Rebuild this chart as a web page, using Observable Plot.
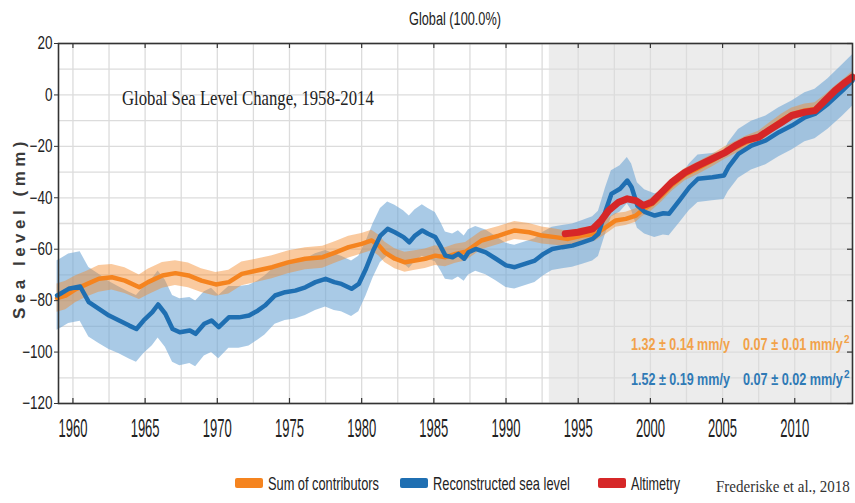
<!DOCTYPE html>
<html>
<head>
<meta charset="utf-8">
<script src="https://cdn.jsdelivr.net/npm/d3@7"></script>
<script src="https://cdn.jsdelivr.net/npm/@observablehq/plot@0.6"></script>
<style>
  html, body { margin: 0; padding: 0; background: #fff; }
  #chart { width: 855px; height: 503px; }
</style>
</head>
<body>
<div id="chart"></div>
<script>
// Global mean sea level (mm), 1959–2014

// Sum of contributors: year, level, half-width of the uncertainty band
const sumYear = [1958.9, 1959.5, 1960.2, 1961.0, 1961.8, 1962.7, 1963.6, 1964.6, 1965.2, 1966.2,
  1967.1, 1968.0, 1968.9, 1969.9, 1970.8, 1971.7, 1972.6, 1973.8, 1974.9, 1976.1,
  1977.3, 1978.2, 1979.1, 1980.0, 1980.7, 1981.2, 1981.6, 1982.3, 1983.0, 1983.7,
  1984.4, 1985.1, 1985.8, 1986.5, 1987.2, 1988.3, 1989.5, 1990.6, 1991.6, 1992.5,
  1993.4, 1994.3, 1995.3, 1996.2, 1996.9, 1997.6, 1998.3, 1999.0, 1999.4, 2000.1,
  2000.8, 2001.5, 2002.4, 2003.3, 2004.3, 2005.2, 2005.9, 2006.6, 2007.5, 2008.2,
  2009.1, 2009.8, 2010.7, 2011.4, 2012.1, 2012.8, 2013.5, 2014.0];
const sumLevel = [-79, -78, -75.5, -73.5, -71.5, -70.9, -72.2, -74.8, -72.8, -70.2,
  -69.3, -70.2, -72.2, -73.7, -72.8, -69.6, -68.5, -67.0, -65.1, -63.7,
  -63.1, -61.2, -59.2, -57.9, -56.6, -58.6, -61.2, -63.7, -65.1, -64.4,
  -63.7, -62.5, -63.1, -61.8, -61.0, -56.6, -54.7, -52.7, -53.4, -54.7,
  -55.3, -56.0, -54.7, -54.0, -51.5, -48.8, -48.2, -46.9, -45.0, -42.5,
  -39.0, -35.0, -31.0, -28.5, -25.5, -22.5, -20.5, -18.5, -16.5, -13.5,
  -9.8, -7.5, -6.0, -5.5, -2.5, 1.0, 4.0, 6.5];
const sumSpread = [5.5, 5.5, 5.2, 5.0, 5.2, 5.0, 5.0, 4.8, 5.0, 5.0,
  4.8, 4.8, 4.6, 4.6, 4.6, 4.6, 4.5, 4.5, 4.4, 4.3,
  4.3, 4.2, 4.2, 4.0, 4.0, 4.0, 4.0, 3.9, 3.9, 3.8,
  3.8, 3.8, 3.7, 3.7, 3.6, 3.6, 3.5, 3.5, 3.4, 3.3,
  3.2, 3.0, 3.0, 2.8, 2.8, 2.7, 2.6, 2.6, 2.5, 2.5,
  2.5, 2.5, 2.4, 2.4, 2.4, 2.4, 2.4, 2.4, 2.4, 2.4,
  2.4, 2.4, 2.5, 2.5, 2.5, 2.5, 2.6, 2.6];

// Reconstructed sea level
const reconYear = [1958.9, 1959.1, 1959.7, 1960.5, 1961.1, 1961.8, 1962.5, 1963.2, 1963.9, 1964.4,
  1964.9, 1965.5, 1965.9, 1966.4, 1966.9, 1967.4, 1968.1, 1968.5, 1969.1, 1969.6,
  1970.1, 1970.8, 1971.5, 1972.2, 1972.8, 1973.3, 1974.0, 1974.7, 1975.4, 1976.1,
  1976.8, 1977.5, 1978.1, 1978.6, 1979.3, 1979.8, 1980.3, 1980.8, 1981.3, 1981.8,
  1982.3, 1982.9, 1983.3, 1983.7, 1984.2, 1984.6, 1985.1, 1985.5, 1985.8, 1986.3,
  1986.7, 1987.1, 1987.4, 1987.9, 1988.6, 1989.3, 1990.0, 1990.6, 1991.3, 1992.0,
  1992.6, 1993.2, 1993.9, 1994.6, 1995.3, 1996.0, 1996.4, 1996.9, 1997.3, 1997.9,
  1998.4, 1998.7, 1999.1, 1999.6, 2000.3, 2000.9, 2001.3, 2002.0, 2002.7, 2003.3,
  2004.3, 2005.1, 2005.4, 2006.1, 2007.0, 2008.0, 2008.9, 2009.8, 2010.7, 2011.4,
  2012.3, 2013.3, 2014.0];
const reconLevel = [-78.0, -77.4, -75.4, -74.5, -80.6, -83.2, -85.8, -87.7, -89.7, -91.0,
  -87.7, -84.5, -81.5, -85.1, -91.0, -92.3, -91.6, -92.9, -89.0, -87.7,
  -90.3, -86.5, -86.5, -85.8, -83.9, -81.9, -78.0, -76.7, -76.1, -74.8,
  -72.8, -71.5, -72.8, -73.5, -75.4, -73.5, -67.6, -60.5, -54.7, -52.1,
  -53.4, -55.3, -57.3, -54.7, -52.7, -54.0, -55.3, -59.2, -62.5, -63.1,
  -61.8, -63.7, -61.2, -59.9, -61.2, -63.7, -66.3, -67.0, -65.7, -64.4,
  -61.8, -59.9, -59.2, -58.6, -57.3, -56.0, -54.0, -45.0, -38.5, -36.5,
  -33.3, -35.9, -43.0, -45.5, -46.9, -46.0, -46.2, -41.1, -35.9, -32.6,
  -32.0, -31.3, -28.1, -22.9, -19.7, -17.7, -14.5, -11.9, -8.7, -7.4,
  -3.5, 1.7, 5.6];
const reconSpread = [13.5, 13.5, 13.5, 13.5, 13.5, 13.5, 13.2, 13.0, 13.0, 13.0,
  13.0, 13.0, 13.0, 13.0, 13.0, 13.0, 12.8, 12.8, 12.5, 12.5,
  12.3, 12.0, 12.0, 11.8, 11.5, 11.5, 11.2, 11.0, 11.0, 11.0,
  11.0, 11.0, 11.0, 10.8, 10.8, 10.8, 10.6, 10.5, 10.5, 10.5,
  10.5, 10.3, 10.2, 10.0, 10.0, 9.8, 9.6, 9.4, 9.2, 9.0,
  9.0, 8.8, 8.8, 8.7, 8.7, 8.6, 8.6, 8.5, 8.5, 8.5,
  8.5, 8.4, 8.4, 8.4, 8.5, 8.6, 8.8, 9.0, 9.0, 9.0,
  9.0, 9.0, 8.8, 8.6, 8.5, 8.5, 8.6, 8.8, 9.0, 9.2,
  9.2, 9.4, 9.5, 9.5, 9.5, 9.5, 9.5, 9.5, 9.5, 9.6,
  9.8, 10.0, 10.0];

// Satellite altimetry
const altYear = [1994.1, 1995.0, 1996.0, 1996.6, 1997.1, 1997.8, 1998.4, 1999.0, 1999.5, 2000.1,
  2000.8, 2001.5, 2002.4, 2003.3, 2004.3, 2005.2, 2005.9, 2006.6, 2007.5, 2008.2,
  2009.1, 2009.8, 2010.7, 2011.4, 2012.1, 2012.8, 2013.5, 2014.0];
const altLevel = [-54.0, -53.4, -52.1, -48.8, -45.0, -41.7, -40.4, -41.1, -43.0, -41.7,
  -37.8, -33.9, -30.1, -27.5, -24.8, -22.3, -19.7, -17.7, -16.4, -13.8,
  -10.6, -8.0, -6.7, -6.1, -2.2, 1.7, 4.9, 6.9];

// Altimetry era shading
const altimetryEra = [1993, 2014];

const yTicks = [-120, -100, -80, -60, -40, -20, 0, 20];
const xTicks = [1960, 1965, 1970, 1975, 1980, 1985, 1990, 1995, 2000, 2005, 2010];

const seriesNames = ["Sum of contributors", "Reconstructed sea level", "Altimetry"];
const seriesColors = ["#f5841f", "#1f6fb2", "#d62728"];
const rateText = [
  ["1.32 ± 0.14 mm/y", "0.07 ± 0.01 mm/y", "#f2a24a"],
  ["1.52 ± 0.19 mm/y", "0.07 ± 0.02 mm/y", "#2f7ab6"]
];

const band = (years, levels, spread) => years.map((year, i) => ({
  year, level: levels[i], lo: levels[i] - spread[i], hi: levels[i] + spread[i]
}));
const sum = band(sumYear, sumLevel, sumSpread);
const recon = band(reconYear, reconLevel, reconSpread);
const alt = altYear.map((year, i) => ({year, level: altLevel[i]}));

const sans = "'Liberation Sans', Arial, sans-serif";
const serif = "'Liberation Serif', 'Times New Roman', serif";

const chart = Plot.plot({
  width: 855,
  height: 503,
  marginLeft: 58,
  marginRight: 3,
  marginTop: 43,
  marginBottom: 100,
  style: {fontFamily: sans, fontSize: "18px", color: "#222", background: "#fff", overflow: "visible"},
  x: {domain: [1959, 2014]},
  y: {domain: [-120, 20]},
  marks: [
    Plot.rect([altimetryEra], {x1: d => d[0], x2: d => d[1], fill: "#ececec"}),
    Plot.ruleY(d3.range(-120, 21, 10), {stroke: "#dcdcdc", strokeWidth: 1.3}),
    Plot.ruleX(d3.range(1960, 2014, 2.5), {stroke: "#dcdcdc", strokeWidth: 1.3}),
    Plot.areaY(recon, {x: "year", y1: "lo", y2: "hi", fill: "#6fa6d6", fillOpacity: 0.6}),
    Plot.areaY(sum, {x: "year", y1: "lo", y2: "hi", fill: "#f58a2a", fillOpacity: 0.45}),
    Plot.line(sum, {x: "year", y: "level", stroke: seriesColors[0], strokeWidth: 4.5}),
    Plot.line(recon, {x: "year", y: "level", stroke: seriesColors[1], strokeWidth: 4.5}),
    Plot.line(alt, {x: "year", y: "level", stroke: seriesColors[2], strokeWidth: 7}),
    Plot.tickX(xTicks, {x: d => d, insetBottom: 355, stroke: "#333", strokeWidth: 1.2}),
    Plot.tickX(xTicks, {x: d => d, insetTop: 355, stroke: "#333", strokeWidth: 1.2}),
    Plot.tickY(yTicks, {y: d => d, insetLeft: 789, stroke: "#333", strokeWidth: 1.2}),
    Plot.frame({stroke: "#333", strokeWidth: 1.6}),
    Plot.axisY(yTicks, {tickSize: 4, tickPadding: 2, label: null, stroke: "#333", fontSize: 18}),
    Plot.axisX(xTicks, {tickSize: 0, tickPadding: 16, label: null, fontSize: 25, tickFormat: d => String(d)})
  ]
});
document.getElementById("chart").appendChild(chart);

const svg = d3.select(chart);

// Squeeze text horizontally to a given width, scaling about its anchor point
// (the vertical position, possibly in em units, is left untouched)
function condense(selection, width) {
  selection.each(function() {
    const natural = this.getComputedTextLength();
    const w = typeof width === "function" ? width(natural) : width;
    const x = parseFloat(this.getAttribute("x")) || 0;
    const base = this.getAttribute("transform") || "";
    this.setAttribute("x", 0);
    this.setAttribute("transform", `${base} translate(${x},0) scale(${w / natural},1)`.trim());
  });
  return selection;
}

condense(svg.selectAll('g[aria-label="y-axis tick label"] text'), w => w * 0.75);
condense(svg.selectAll('g[aria-label="x-axis tick label"] text'), 29);

const addText = (x, y, str, {size = 16, family = sans, weight = "normal", fill = "#222", anchor = "start"} = {}) =>
  svg.append("text")
    .attr("x", x).attr("y", y)
    .attr("text-anchor", anchor)
    .style("font-family", family).style("font-size", size + "px").style("font-weight", weight)
    .attr("fill", fill)
    .text(str);

// Panel title
condense(addText(455, 25, "Global (100.0%)", {size: 18, anchor: "middle"}), 92);

// Y axis label
svg.append("text")
  .attr("transform", "translate(25,228) rotate(-90)")
  .attr("text-anchor", "middle")
  .style("font-family", sans)
  .style("font-size", "17px").style("font-weight", "bold").style("letter-spacing", "4.5px")
  .attr("fill", "#3a3a3a")
  .text("Sea level (mm)");

// Inner heading
condense(addText(122, 105, "Global Sea Level Change, 1958-2014", {size: 22, family: serif}), 252);

// Trend and acceleration annotations
rateText.forEach(([rate, accel, color], i) => {
  const y = 350 + i * 35;
  condense(addText(631, y, rate, {size: 16, weight: "bold", fill: color}), 99);
  condense(addText(743, y, accel, {size: 16, weight: "bold", fill: color}), 100);
  addText(844, y - 7, "2", {size: 10, weight: "bold", fill: color});
});

// Legend
const legendX = [235, 400, 598];
const legendW = [111, 137, 49];
seriesNames.forEach((name, i) => {
  svg.append("rect").attr("x", legendX[i]).attr("y", 478).attr("width", 28).attr("height", 10)
    .attr("rx", 2).attr("fill", seriesColors[i]);
  condense(addText(legendX[i] + 33, 490, name, {size: 18}), legendW[i]);
});

// Source
condense(addText(716, 492, "Frederiske et al., 2018", {size: 17, family: serif, fill: "#333"}), 134);
</script>
</body>
</html>
